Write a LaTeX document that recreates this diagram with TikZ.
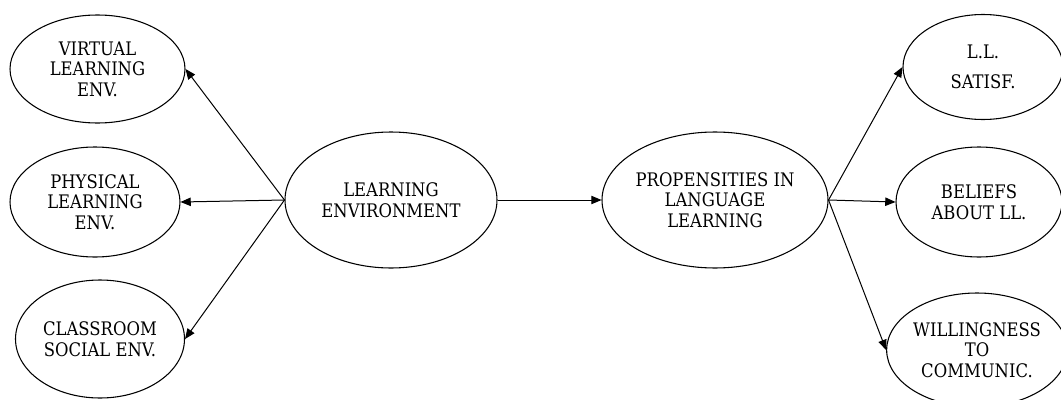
\documentclass[tikz,border=0pt]{standalone}
\usepackage{fontspec}
\setmainfont[FakeStretch=0.88]{DejaVu Serif}
\usepackage{tikz}
\usetikzlibrary{shapes,arrows}
\usetikzlibrary{positioning}
\tikzstyle{every construct} = [ellipse, draw, line width=0.8pt, inner sep=0pt,
                               align=center, font=\fontsize{14}{15.5}\selectfont]
\tikzstyle{esize} = [minimum width=#1*0.75pt]
\tikzstyle{eheight} = [minimum height=#1*0.75pt]
\tikzstyle{line} = [draw, line width=0.75pt, -triangle 45]

\begin{document}
\begin{tikzpicture}[x=0.75pt, y=-0.75pt]
  \useasboundingbox (0,0) rectangle (1061,400);
  % Place nodes
  \node [every construct, esize=212, eheight=136] (env) at (391,200) {LEARNING\\ENVIRONMENT};
  \node [every construct, esize=226, eheight=136] (prop) at (715,200) {PROPENSITIES IN\\LANGUAGE\\LEARNING};

  % left side
  \node [every construct, esize=175, eheight=108] (virt) at (97.5,69) {VIRTUAL\\LEARNING\\ENV.};
  \node [every construct, esize=170, eheight=110] (phys) at (95,202) {PHYSICAL\\LEARNING\\ENV.};
  \node [every construct, esize=169, eheight=118] (class) at (100,339) {CLASSROOM\\SOCIAL ENV.};

  % right side
  \node [every construct, esize=160, eheight=105] (satisf) at (983,67) {L.L.\\[7pt]SATISF.};
  \node [every construct, esize=166, eheight=110] (beliefs) at (979,202) {BELIEFS\\ABOUT LL.};
  \node [every construct, esize=170, eheight=114] (willing) at (977,350) {WILLINGNESS\\TO\\COMMUNIC.};

  % Draw edges
  \path [line] (env.west) -- (virt.east);
  \path [line] (env.west) -- (phys.east);
  \path [line] (env.west) -- (class.east);
  \path [line] (env) -- (prop);
  \path [line] (prop.east) -- (satisf.west);
  \path [line] (prop.east) -- (beliefs.west);
  \path [line] (prop.east) -- (willing.west);
\end{tikzpicture}
\end{document}
